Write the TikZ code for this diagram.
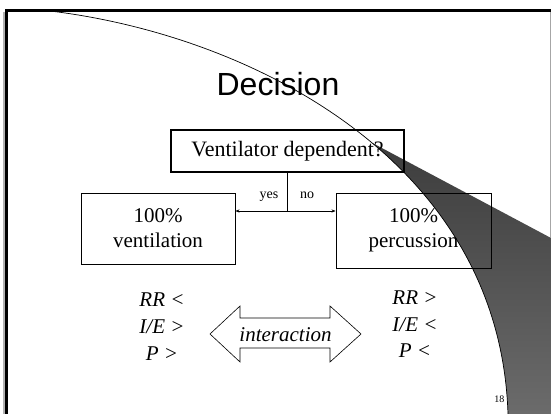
\documentclass[tikz,border=0pt]{standalone}
\usepackage{fontspec}
\usetikzlibrary{arrows.meta}
\setmainfont{Liberation Serif}
\newfontfamily\titlefont{Liberation Sans}
\begin{document}
\begin{tikzpicture}[x=1pt,y=-1pt,
  box/.style={draw, line width=0.9pt, align=center, inner sep=0pt, font=\fontsize{21}{25}\selectfont},
  cmp/.style={anchor=base, font=\itshape\fontsize{21}{25}\selectfont},
  small/.style={anchor=base, font=\fontsize{14}{16}\selectfont},
  conn/.style={line width=0.7pt, -{Stealth[length=4pt,width=3.2pt]}}]
\useasboundingbox (0,0) rectangle (551,414);
\fill[white] (0,0) rectangle (551,414);
% slide frame
\draw[black!30, line width=1.4pt] (4,12) -- (4,414);
\draw[black!35, line width=1pt] (550,12) -- (550,414);
\draw[line width=2.6pt] (6.5,10.5) -- (6.5,414);
\draw[line width=2.6pt] (5.2,10.5) -- (551,10.5);
% page curl
\begin{scope}
  \clip (200,51.3) -- (551,238) -- (551,414) -- (200,414) -- cycle;
  \shade[top color=black!85, bottom color=black!58]
    (50,11) .. controls (250,35) and (500,160) .. (508,414) -- (551,414) -- (551,11) -- cycle;
\end{scope}
% title
\node[anchor=base, font=\titlefont\fontsize{32}{36}\selectfont] (title) at (278,96) {Decision};
% decision tree
\node[box, line width=1.2pt, minimum width=233pt, minimum height=42pt, font=\fontsize{22}{26}\selectfont] (q) at (287.5,151) {Ventilator dependent?};
\node[box, minimum width=154pt, minimum height=71pt] (v) at (158,228.5) {100\%\\ventilation};
\node[box, minimum width=155pt, minimum height=75pt] (p) at (413.5,230.5) {100\%\\percussion};
\coordinate (j) at (287.5,211);
\draw[line width=0.7pt] (q.south) -- (j);
\draw[conn] (j) -- (j -| v.east);
\draw[conn] (j) -- (j -| p.west);
\node[small] (yes) at (269,198) {yes};
\node[small] (no) at (307,198) {no};
% comparisons
\node[cmp] (l1) at (162,306) {RR <};
\node[cmp] (l2) at (162,333) {I/E >};
\node[cmp] (l3) at (162,360) {P >};
\node[cmp] (r1) at (415,304) {RR >};
\node[cmp] (r2) at (415,331) {I/E <};
\node[cmp] (r3) at (415,357) {P <};
% interaction double arrow
\node[font=\itshape\fontsize{21}{25}\selectfont] (ia) at (285.5,335) {interaction};
\draw[line width=0.6pt] ([shift={(-75.5,-1)}]ia.center) -- ++(30,-28) -- ++(0,12) -- ++(90,0) -- ++(0,-12)
  -- ++(31,28) -- ++(-31,28) -- ++(0,-14) -- ++(-90,0) -- ++(0,14) -- cycle;
% slide number
\node[anchor=base east, font=\fontsize{10}{12}\selectfont] (num) at (508,402) {18};
% curl edge
\draw[line width=0.7pt] (50,11) .. controls (250,35) and (500,160) .. (508,414);
\end{tikzpicture}
\end{document}
